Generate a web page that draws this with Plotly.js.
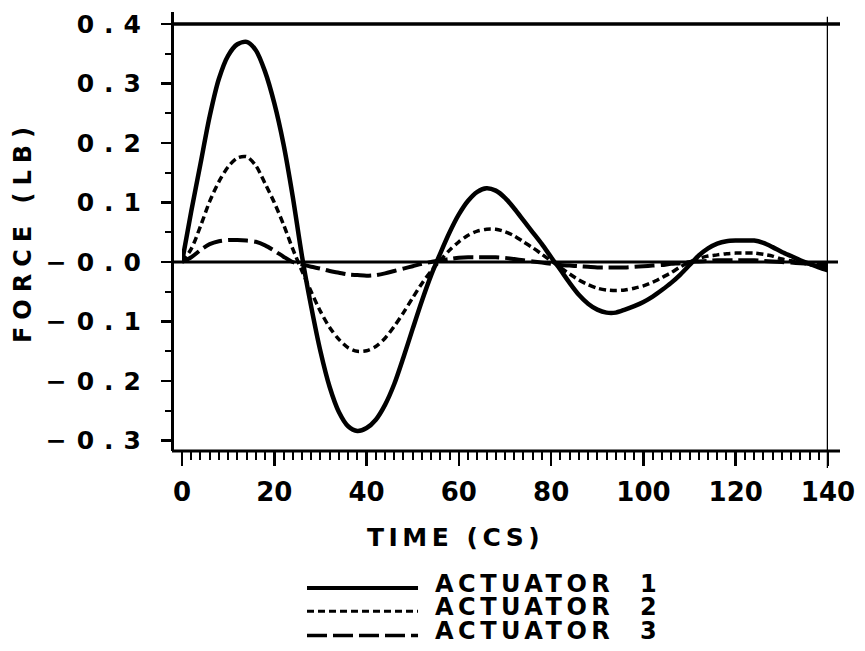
<!DOCTYPE html>
<html>
<head>
<meta charset="utf-8">
<script src="https://cdn.plot.ly/plotly-3.0.1.min.js"></script>
<style>
  html, body { margin: 0; padding: 0; background: #fff; }
  #chart { width: 865px; height: 651px; }
  .ytick text { letter-spacing: 10px; }
  .annotation-text { letter-spacing: 4.5px; }
  .g-ytitle text { letter-spacing: 7px; }
</style>
</head>
<body>
<div id="chart"></div>
<script>
// Sample times (centiseconds)
const time = [
  0, 2, 4, 6, 8, 10, 12, 14, 16, 18,
  20, 22, 24, 26, 28, 30, 32, 34, 36, 38,
  40, 42, 44, 46, 48, 50, 52, 54, 56, 58,
  60, 62, 64, 66, 68, 70, 72, 74, 76, 78,
  80, 82, 84, 86, 88, 90, 92, 94, 96, 98,
  100, 102, 104, 106, 108, 110, 112, 114, 116, 118,
  120, 122, 124, 126, 128, 130, 132, 134, 136, 138,
  140
];

// Actuator forces (lb)
const actuator1 = [
  0.000, 0.085, 0.165, 0.245, 0.308, 0.347, 0.366, 0.370, 0.356, 0.320,
  0.267, 0.198, 0.110, 0.010, -0.075, -0.150, -0.210, -0.252, -0.276, -0.284,
  -0.279, -0.265, -0.240, -0.205, -0.160, -0.112, -0.065, -0.022, 0.015, 0.050,
  0.080, 0.103, 0.118, 0.124, 0.120, 0.108, 0.090, 0.070, 0.050, 0.030,
  0.008, -0.013, -0.035, -0.055, -0.070, -0.080, -0.085, -0.085, -0.080, -0.074,
  -0.067, -0.058, -0.047, -0.035, -0.021, -0.005, 0.011, 0.023, 0.031, 0.035,
  0.036, 0.036, 0.036, 0.032, 0.025, 0.017, 0.010, 0.003, -0.003, -0.009,
  -0.014
];

const actuator2 = [
  0.000, 0.022, 0.060, 0.102, 0.135, 0.160, 0.175, 0.177, 0.162, 0.132,
  0.100, 0.063, 0.022, -0.015, -0.050, -0.083, -0.110, -0.130, -0.144, -0.150,
  -0.149, -0.142, -0.128, -0.108, -0.085, -0.060, -0.036, -0.015, 0.003, 0.020,
  0.034, 0.045, 0.052, 0.055, 0.055, 0.051, 0.044, 0.034, 0.024, 0.013,
  0.002, -0.009, -0.020, -0.030, -0.038, -0.044, -0.047, -0.048, -0.047, -0.044,
  -0.040, -0.034, -0.026, -0.018, -0.008, 0.000, 0.006, 0.010, 0.012, 0.014,
  0.015, 0.015, 0.015, 0.013, 0.010, 0.005, 0.002, -0.001, -0.004, -0.007,
  -0.009
];

const actuator3 = [
  0.000, 0.008, 0.020, 0.030, 0.035, 0.037, 0.037, 0.036, 0.034, 0.028,
  0.019, 0.009, 0.000, -0.004, -0.008, -0.011, -0.015, -0.018, -0.021, -0.022,
  -0.023, -0.022, -0.019, -0.015, -0.011, -0.007, -0.003, 0.000, 0.003, 0.005,
  0.007, 0.008, 0.008, 0.008, 0.008, 0.007, 0.005, 0.003, 0.001, -0.001,
  -0.003, -0.005, -0.006, -0.007, -0.008, -0.009, -0.009, -0.009, -0.009, -0.008,
  -0.007, -0.006, -0.005, -0.003, -0.002, 0.000, 0.001, 0.002, 0.003, 0.003,
  0.003, 0.003, 0.003, 0.002, 0.001, 0.000, -0.001, -0.002, -0.003, -0.004,
  -0.005
];

const seriesNames = ['ACTUATOR\u00A0\u00A01', 'ACTUATOR\u00A0\u00A02', 'ACTUATOR\u00A0\u00A03'];

// Axis ticks and titles
const xTickVals = [0, 20, 40, 60, 80, 100, 120, 140];
const xTickText = ['0', '20', '40', '60', '80', '100', '120', '140'];
const yTickVals = [0.4, 0.3, 0.2, 0.1, 0, -0.1, -0.2, -0.3];
const yTickText = ['0.4', '0.3', '0.2', '0.1', '\u22120.0', '\u22120.1', '\u22120.2', '\u22120.3'];
const xTitle = 'TIME (CS)';
const yTitle = 'FORCE (LB)';

const ink = '#000';
const font = 'DejaVu Sans, Arial, sans-serif';

const lineStyles = [
  { color: ink, width: 4.5, dash: 'solid' },
  { color: ink, width: 3.5, dash: '7px,4px' },
  { color: ink, width: 4, dash: '20px,6px' }
];
const seriesValues = [actuator1, actuator2, actuator3];

const traces = seriesValues.map((vals, i) => ({
  type: 'scatter',
  mode: 'lines',
  x: time,
  y: vals,
  name: seriesNames[i],
  line: Object.assign({ shape: 'spline', smoothing: 0.8 }, lineStyles[i]),
  showlegend: false,
  hoverinfo: 'x+y+name'
}));

// Frame lines drawn around the data region
const frameShapes = [
  // bottom rule
  { type: 'line', xref: 'paper', yref: 'paper', x0: 0, x1: 1, y0: 0, y1: 0,
    line: { color: ink, width: 3 } },
  // top rule at 0.4
  { type: 'line', xref: 'paper', yref: 'y', x0: 0, x1: 1, y0: 0.4, y1: 0.4,
    line: { color: ink, width: 3.5 } },
  // zero rule
  { type: 'line', xref: 'paper', yref: 'y', x0: 0, x1: 0.997, y0: 0, y1: 0,
    line: { color: ink, width: 3 } },
  // right rule at x = 140
  { type: 'line', xref: 'x', yref: 'paper', x0: 140, x1: 140, y0: -0.039, y1: 0.989,
    line: { color: ink, width: 2.5 } }
];

// Legend key: sample lines and labels below the axis title
const legendRowsY = [-0.312, -0.365, -0.420];
const legendShapes = lineStyles.map((ls, i) => ({
  type: 'line', xref: 'paper', yref: 'paper',
  x0: 0.2021, x1: 0.3683, y0: legendRowsY[i], y1: legendRowsY[i],
  line: { color: ls.color, width: ls.width - 0.5, dash: ls.dash }
}));
const legendLabels = seriesNames.map((name, i) => ({
  xref: 'paper', yref: 'paper', x: 0.391, y: legendRowsY[i] + 0.010,
  xanchor: 'left', yanchor: 'middle', showarrow: false,
  text: name, font: { family: font, size: 24, color: ink, weight: 'bold' }
}));

// Horizontal axis title, set below the tick labels
const xTitleNote = {
  xref: 'paper', yref: 'paper', x: 0.4237, y: -0.196,
  xanchor: 'center', yanchor: 'middle', showarrow: false,
  text: xTitle, font: { family: font, size: 25, color: ink, weight: 'bold' }
};

const layout = {
  width: 865,
  height: 651,
  margin: { l: 172, r: 25, t: 12, b: 200 },
  paper_bgcolor: '#fff',
  plot_bgcolor: '#fff',
  showlegend: false,
  font: { family: font, color: ink, weight: 'bold' },
  xaxis: {
    domain: [0.01497, 0.98204],
    range: [0, 140],
    anchor: 'y',
    showgrid: false,
    zeroline: false,
    showline: false,
    tickvals: xTickVals,
    ticktext: xTickText,
    ticks: 'outside',
    ticklen: 14,
    tickwidth: 2.5,
    tickcolor: ink,
    ticklabelstandoff: 4,
    tickfont: { family: font, size: 26, color: ink, weight: 'bold' },
    minor: { dtick: 2, ticks: 'outside', ticklen: 8, tickwidth: 2, tickcolor: ink, showgrid: false }
  },
  yaxis: {
    range: [-0.3176, 0.4202],
    anchor: 'free',
    position: 0,
    showgrid: false,
    zeroline: false,
    showline: true,
    linewidth: 3,
    linecolor: ink,
    tickvals: yTickVals,
    ticktext: yTickText,
    ticks: 'outside',
    ticklen: 10,
    tickwidth: 2.5,
    tickcolor: ink,
    ticklabelstandoff: 5,
    tickfont: { family: font, size: 25, color: ink, weight: 'bold' },
    minor: { dtick: 0.05, ticks: 'outside', ticklen: 6, tickwidth: 2, tickcolor: ink, showgrid: false },
    title: { text: yTitle, standoff: 6, font: { family: font, size: 24, color: ink, weight: 'bold' } }
  },
  shapes: frameShapes.concat(legendShapes),
  annotations: legendLabels.concat([xTitleNote])
};

Plotly.newPlot('chart', traces, layout, { displayModeBar: false, staticPlot: true });
</script>
</body>
</html>
